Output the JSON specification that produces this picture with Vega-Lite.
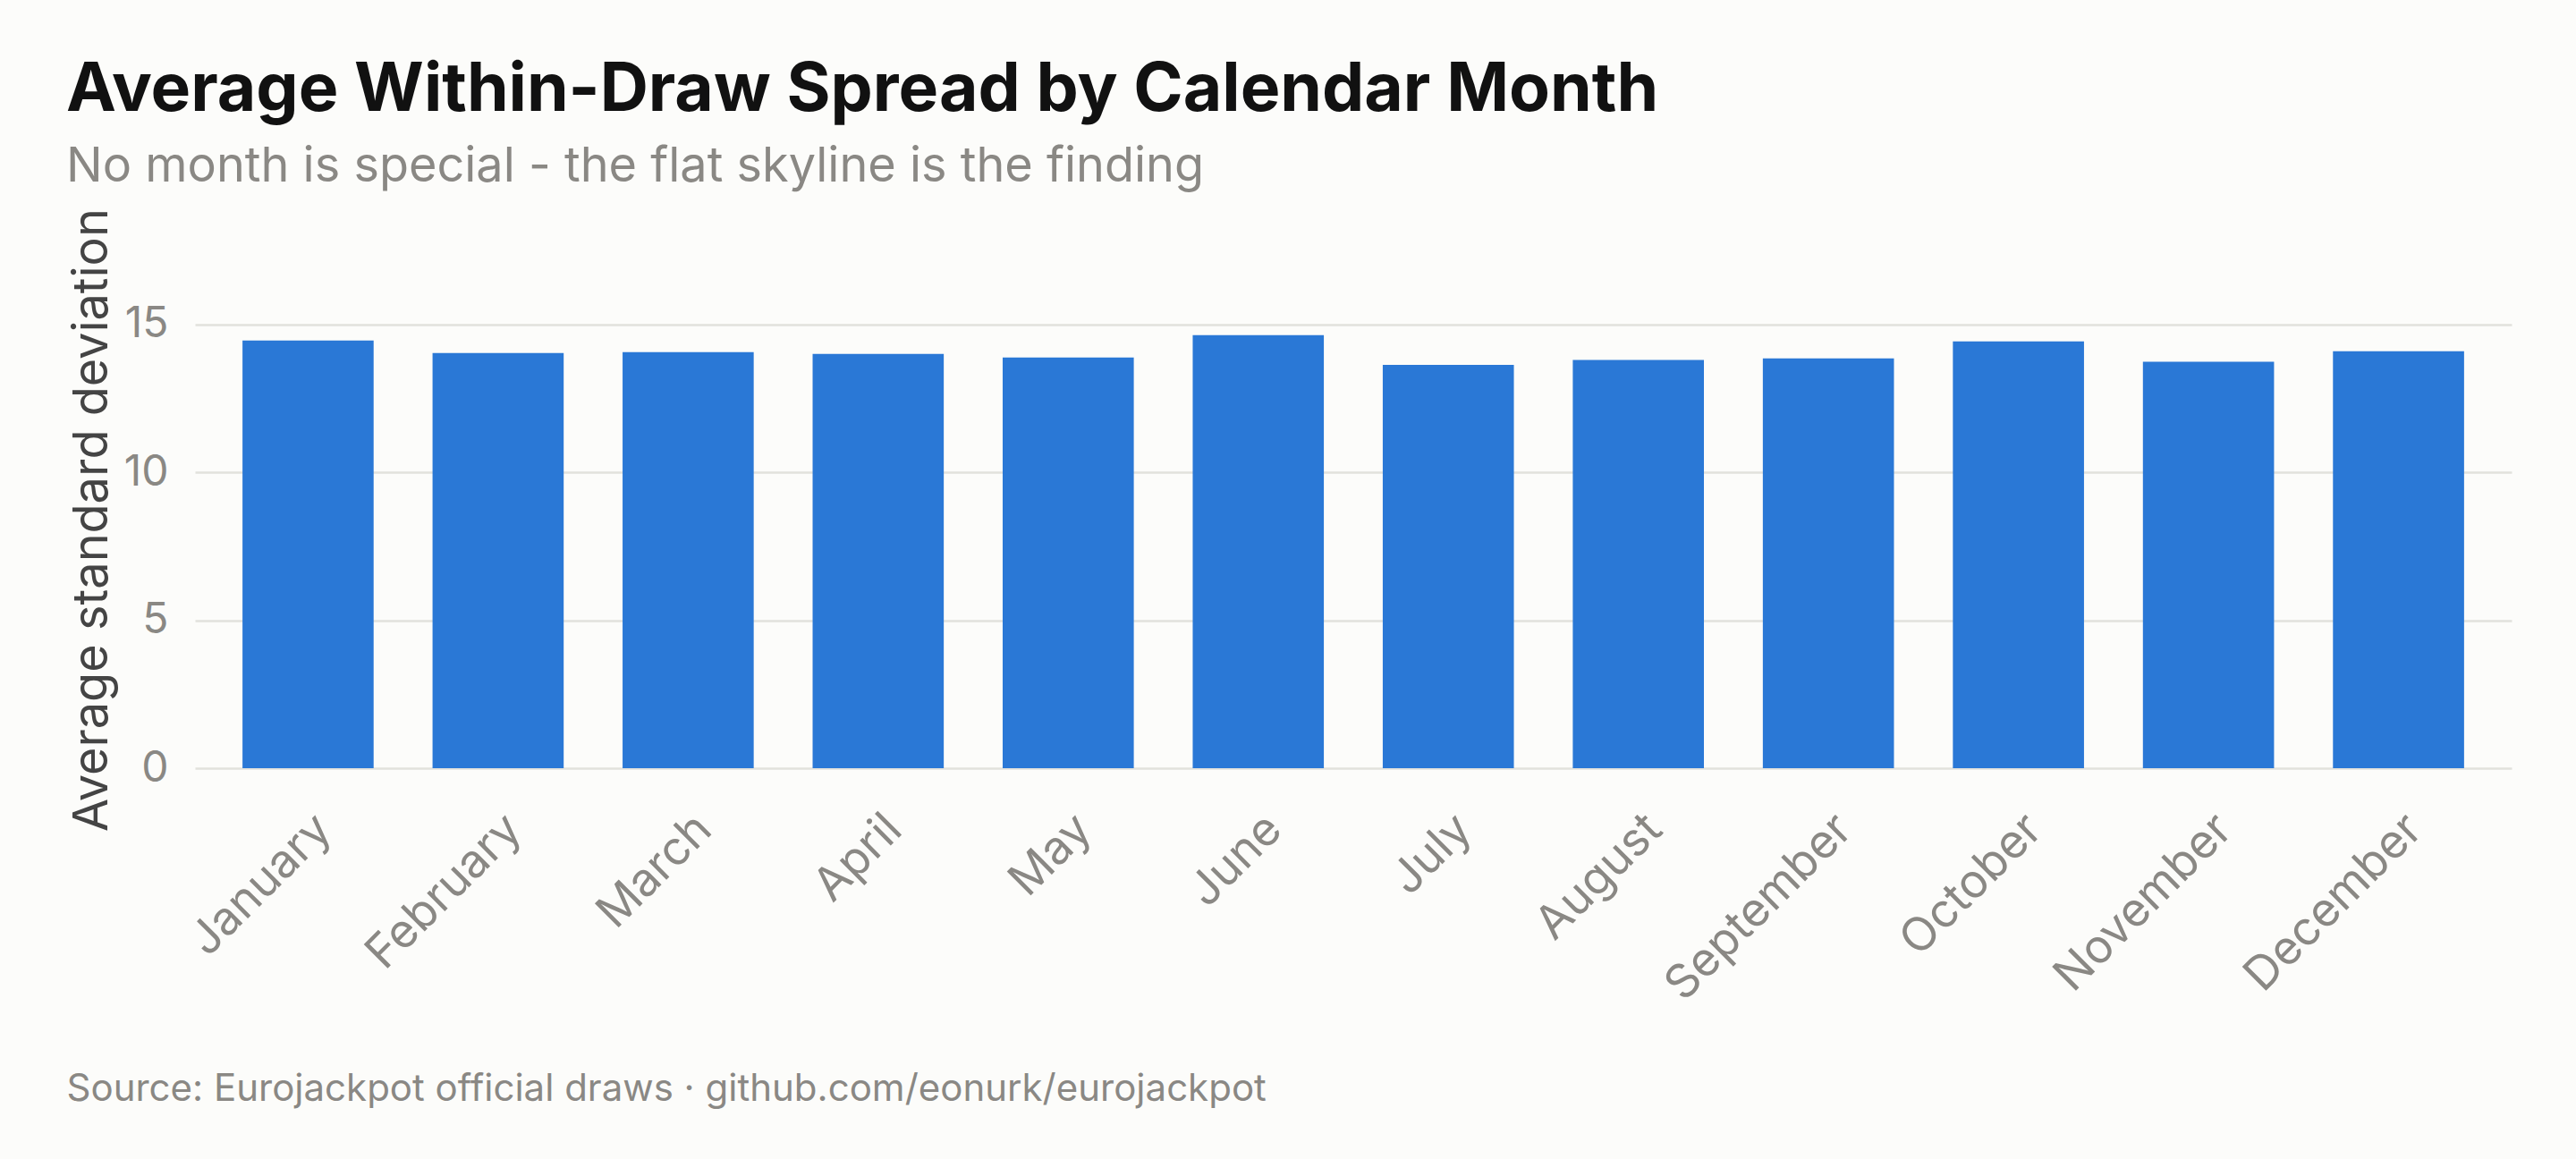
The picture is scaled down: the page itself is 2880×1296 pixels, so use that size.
{
  "$schema": "https://vega.github.io/schema/vega-lite/v6.json",
  "width": 2590,
  "height": 556,
  "autosize": {"type": "none"},
  "padding": {"left": 218, "top": 303, "right": 72, "bottom": 437},
  "background": "#fcfcfa",
  "title": {
    "text": "Average Within-Draw Spread by Calendar Month",
    "subtitle": "No month is special - the flat skyline is the finding",
    "anchor": "start",
    "frame": "group",
    "dx": -144,
    "font": "Inter",
    "fontSize": 75,
    "fontWeight": "bold",
    "color": "#111111",
    "subtitleFont": "Inter",
    "subtitleFontSize": 54,
    "subtitleColor": "#8a8884",
    "subtitlePadding": 20,
    "offset": 18
  },
  "data": {
    "values": [
      {"month": "January", "sd": 14.45},
      {"month": "February", "sd": 14.03},
      {"month": "March", "sd": 14.06},
      {"month": "April", "sd": 14.0},
      {"month": "May", "sd": 13.88},
      {"month": "June", "sd": 14.63},
      {"month": "July", "sd": 13.63},
      {"month": "August", "sd": 13.79},
      {"month": "September", "sd": 13.85},
      {"month": "October", "sd": 14.42},
      {"month": "November", "sd": 13.73},
      {"month": "December", "sd": 14.09}
    ]
  },
  "mark": {"type": "bar", "color": "#2a78d6"},
  "encoding": {
    "x": {
      "field": "month",
      "type": "nominal",
      "sort": null,
      "scale": {"paddingInner": 0.31, "paddingOuter": 0.25},
      "axis": {
        "title": "Source: Eurojackpot official draws · github.com/eonurk/eurojackpot",
        "titleFont": "Inter",
        "titleFontSize": 42,
        "titleFontWeight": "normal",
        "titleColor": "#8a8884",
        "titleAnchor": "start",
        "titleAlign": "left",
        "titleBaseline": "alphabetic",
        "titleX": -144,
        "titleY": 371,
        "labelAngle": -45,
        "labelAlign": "right",
        "labelBaseline": "top",
        "labelFont": "Inter",
        "labelFontSize": 52,
        "labelColor": "#8a8884",
        "labelPadding": 42,
        "labelLimit": 0,
        "ticks": false,
        "domain": false
      }
    },
    "y": {
      "field": "sd",
      "type": "quantitative",
      "scale": {"domain": [0, 16.8], "nice": false},
      "axis": {
        "title": "Average standard deviation",
        "titleFont": "Inter",
        "titleFontSize": 54,
        "titleFontWeight": "normal",
        "titleColor": "#444444",
        "titlePadding": 8,
        "values": [0, 5, 10, 15],
        "labelFont": "Inter",
        "labelFontSize": 48,
        "labelColor": "#8a8884",
        "labelPadding": 30,
        "ticks": false,
        "domain": false,
        "grid": true,
        "gridColor": "#e2e2dc",
        "gridWidth": 2.5
      }
    }
  },
  "config": {"view": {"stroke": null}}
}
